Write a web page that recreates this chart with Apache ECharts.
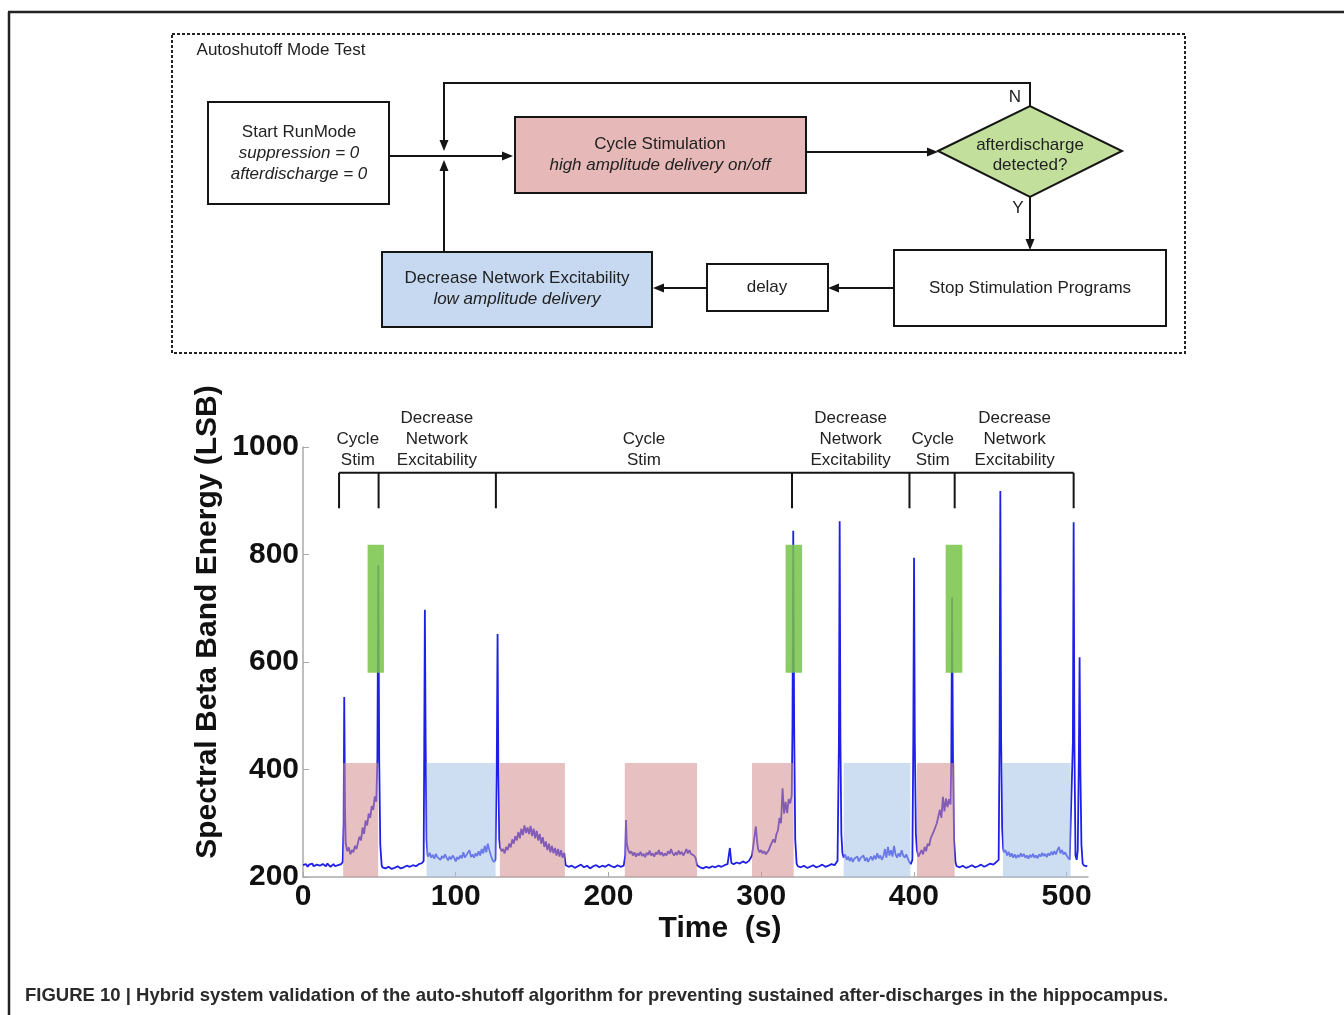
<!DOCTYPE html>
<html>
<head>
<meta charset="utf-8">
<title>Figure 10</title>
<script src="https://cdn.jsdelivr.net/npm/echarts@6/dist/echarts.min.js"></script>
<style>
  html, body { margin: 0; padding: 0; background: #fff; }
  #chart { width: 1344px; height: 1015px; }
</style>
</head>
<body>
<div id="chart"></div>
<script>
  // ---- data ----
  const timeTicks = [0, 100, 200, 300, 400, 500]
  const energyTicks = [200, 400, 600, 800, 1000]

  // [time (s), spectral beta band energy (LSB)]
  const betaEnergy = [
    [0, 222], [1, 220], [2, 224], [3, 219], [4, 223], [5, 221], [6, 225], [7, 220], [8, 218], [9, 223],
    [10, 226], [11, 221], [12, 219], [13, 224], [14, 222], [15, 220], [16, 225], [17, 223], [18, 219],
    [19, 221], [20, 224], [21, 220], [22, 218], [23, 222], [24, 221], [25, 224], [26, 228],
    [26.6, 300], [27, 535], [27.5, 330], [28, 262], [29, 248], [30, 255], [31, 242], [32, 250], [33, 246],
    [34, 258], [35, 252], [36, 264], [37, 275], [38, 268], [39, 292], [40, 280], [41, 305], [42, 296],
    [43, 318], [44, 310], [45, 332], [46, 325], [47, 350], [48, 340],
    [48.7, 420], [49.3, 780], [49.9, 420], [50.6, 260], [51.5, 222],
    [52, 218], [54, 216], [56, 219], [58, 215], [60, 217], [62, 220], [64, 216], [66, 218], [68, 221],
    [70, 219], [72, 222], [74, 220], [76, 224], [78, 226], [79, 230],
    [79.4, 450], [79.8, 697], [80.3, 450], [80.9, 270], [81.5, 242],
    [82, 238], [83, 245], [84, 236], [85, 241], [86, 234], [87, 243], [88, 237], [89, 240], [90, 232],
    [91, 239], [92, 235], [93, 242], [94, 236], [95, 231], [96, 238], [97, 233], [98, 240], [99, 236],
    [100, 229], [101, 237], [102, 233], [103, 240], [104, 235], [105, 246], [106, 236], [107, 241],
    [108, 238], [109, 250], [110, 237], [111, 242], [112, 236], [113, 244], [114, 239], [115, 248],
    [116, 240], [117, 252], [118, 244], [119, 258], [120, 246], [121, 262], [122, 250], [123, 240],
    [124, 232], [125, 228], [126, 232],
    [126.9, 420], [127.4, 652], [127.9, 400], [128.5, 270],
    [129, 255], [130, 248], [131, 252], [132, 244], [133, 256], [134, 250], [135, 262], [136, 255],
    [137, 270], [138, 262], [139, 276], [140, 268], [141, 284], [142, 272], [143, 290], [144, 278],
    [145, 296], [146, 282], [147, 292], [148, 280], [149, 295], [150, 276], [151, 290], [152, 272],
    [153, 286], [154, 268], [155, 280], [156, 262], [157, 274], [158, 256], [159, 266], [160, 250],
    [161, 262], [162, 246], [163, 258], [164, 244], [165, 254], [166, 240], [167, 252], [168, 238],
    [169, 250], [170, 236], [171, 245], [172, 222],
    [174, 219], [176, 221], [178, 217], [180, 220], [182, 223], [184, 218], [186, 221], [188, 216],
    [190, 220], [192, 222], [194, 218], [196, 221], [198, 219], [200, 223], [202, 220], [204, 218],
    [206, 222], [208, 219], [210, 221],
    [211, 240], [211.5, 306], [212, 262], [213, 250], [214, 244], [215, 248], [216, 240], [217, 246],
    [218, 238], [219, 244], [220, 240], [221, 247], [222, 239], [223, 243], [224, 237], [225, 245],
    [226, 241], [227, 249], [228, 240], [229, 244], [230, 238], [231, 246], [232, 242], [233, 250],
    [234, 241], [235, 246], [236, 239], [237, 244], [238, 240], [239, 248], [240, 243], [241, 252],
    [242, 244], [243, 240], [244, 246], [245, 241], [246, 249], [247, 242], [248, 247], [249, 240],
    [250, 245], [251, 252], [252, 244], [253, 250], [254, 243], [255, 246], [256, 240], [257, 236],
    [258, 222],
    [260, 218], [262, 216], [264, 219], [266, 217], [268, 220], [270, 218], [272, 221], [274, 219],
    [276, 222], [278, 224], [279.5, 254], [280.5, 226], [282, 224], [284, 227], [286, 225], [288, 229],
    [290, 226], [292, 230], [293, 228],
    [294, 240], [295, 262], [296.5, 294], [297.5, 262], [298, 252], [299, 246], [300, 250], [301, 244],
    [302, 248], [303, 242], [304, 246], [305, 250], [306, 258], [307, 255], [308, 270], [309, 264],
    [310, 280], [311, 287], [312, 310], [313, 300], [314, 365], [315, 318], [316, 340], [317, 319],
    [318, 345], [319, 337], [320, 352],
    [320.5, 480], [321, 844], [321.6, 480], [322.3, 270], [323.2, 225],
    [324, 220], [326, 218], [328, 221], [330, 217], [332, 219], [334, 222], [336, 218], [338, 220],
    [340, 223], [342, 219], [344, 221], [346, 224], [348, 222], [350, 230],
    [350.9, 450], [351.4, 862], [351.9, 450], [352.5, 280], [353.2, 245],
    [354, 236], [355, 242], [356, 232], [357, 238], [358, 230], [359, 236], [360, 228], [361, 234],
    [362, 231], [363, 238], [364, 229], [365, 235], [366, 232], [367, 240], [368, 230], [369, 236],
    [370, 228], [371, 234], [372, 238], [373, 231], [374, 240], [375, 233], [376, 244], [377, 235],
    [378, 240], [379, 232], [380, 238], [381, 252], [382, 236], [383, 256], [384, 240], [385, 250],
    [386, 238], [387, 258], [388, 242], [389, 236], [390, 244], [391, 238], [392, 250], [393, 240],
    [394, 236], [395, 242], [396, 234], [397, 228], [398, 224], [399, 232],
    [399.6, 450], [400.1, 794], [400.6, 450], [401.3, 280], [402, 250],
    [403, 238], [404, 244], [405, 250], [406, 242], [407, 256], [408, 248], [409, 262], [410, 258],
    [411, 272], [412, 269], [413, 285], [414, 282], [415, 300], [416, 298], [417, 325], [418, 310],
    [419, 349], [420, 322], [421, 346], [422, 330], [423, 345], [424, 335],
    [424.5, 420], [425, 720], [425.6, 420], [426.3, 270], [427.2, 228],
    [428, 220], [430, 218], [432, 221], [434, 217], [436, 219], [438, 222], [440, 218], [442, 220],
    [444, 223], [446, 219], [448, 222], [450, 225], [452, 223], [454, 228], [455.5, 232],
    [456.1, 460], [456.6, 918], [457.1, 460], [457.8, 290], [458.5, 252],
    [459, 246], [460, 250], [461, 240], [462, 247], [463, 238], [464, 244], [465, 236], [466, 242],
    [467, 235], [468, 241], [469, 237], [470, 244], [471, 238], [472, 243], [473, 236], [474, 240],
    [475, 234], [476, 241], [477, 237], [478, 243], [479, 236], [480, 240], [481, 235], [482, 242],
    [483, 238], [484, 245], [485, 239], [486, 243], [487, 237], [488, 244], [489, 240], [490, 247],
    [491, 241], [492, 248], [493, 242], [494, 250], [495, 256], [496, 244], [497, 250], [498, 242],
    [499, 246], [500, 240], [501, 236], [502, 232], [503, 230],
    [504.1, 450], [504.6, 860], [505.1, 450], [505.8, 240], [506.6, 232], [507.3, 250],
    [508, 420], [508.5, 609], [509, 400], [509.7, 260], [510.5, 225], [511.5, 221], [512.5, 223], [513.5, 220]
  ]

  // shaded periods: [start, end] in seconds
  const cycleStimPeriods = [[26.3, 49.2], [128.9, 171.5], [210.7, 258], [294, 321.3], [402, 426.7]]
  const lowAmpPeriods = [[80.9, 126.1], [354, 397.7], [458.3, 502.6]]
  const detectPeriods = [[42.3, 53], [316, 326.8], [420.8, 431.7]]
  const shadeTop = 412
  const detectRange = [580, 818]

  // phase brackets on top
  const phaseBounds = [23.6, 49.5, 126.3, 320.2, 397.1, 426.7, 504.6]
  const bracketLine = 952
  const bracketFoot = 886
  const phaseLabels = ['Cycle\nStim', 'Decrease\nNetwork\nExcitability', 'Cycle\nStim',
    'Decrease\nNetwork\nExcitability', 'Cycle\nStim', 'Decrease\nNetwork\nExcitability']
  const phaseLabelAt = [35.9, 87.7, 223.2, 358.6, 412.3, 466]

  // ---- helpers ----
  const FONT = '"Liberation Sans", Arial, sans-serif'
  const INK = '#151515'

  function rectRows(periods, lo, hi) {
    return periods.map(p => [p[0], p[1], lo, hi])
  }

  function shadeSeries(periods, lo, hi, color, z) {
    return {
      type: 'custom',
      z: z,
      silent: true,
      data: rectRows(periods, lo, hi),
      encode: { x: [0, 1], y: [2, 3] },
      renderItem(params, api) {
        const a = api.coord([api.value(0), api.value(3)])
        const b = api.coord([api.value(1), api.value(2)])
        return { type: 'rect', shape: { x: a[0], y: a[1], width: b[0] - a[0], height: b[1] - a[1] }, style: { fill: color } }
      }
    }
  }

  // flow chart pieces (pixel layout of the diagram)
  function box(x, y, w, h, fill) {
    return { type: 'rect', shape: { x, y, width: w, height: h }, style: { fill, stroke: INK, lineWidth: 2 } }
  }
  function txt(x, y, s, italic, size) {
    return {
      type: 'text', x, y,
      style: { text: s, fill: '#222', font: (italic ? 'italic ' : '') + (size || 17) + 'px ' + FONT, textAlign: 'center', textVerticalAlign: 'middle' }
    }
  }
  function arrow(pts) {
    const [x1, y1] = pts[pts.length - 2]
    const [x2, y2] = pts[pts.length - 1]
    const a = Math.atan2(y2 - y1, x2 - x1)
    const L = 11, W = 4.5
    const bx = x2 - L * Math.cos(a), by = y2 - L * Math.sin(a)
    const line = pts.slice(0, -1).concat([[bx, by]])
    return [
      { type: 'polyline', shape: { points: line }, style: { stroke: INK, lineWidth: 2, fill: null } },
      { type: 'polygon', shape: { points: [[x2, y2], [bx - W * Math.sin(a), by + W * Math.cos(a)], [bx + W * Math.sin(a), by - W * Math.cos(a)]] }, style: { fill: INK } }
    ]
  }

  const flow = [
    { type: 'rect', shape: { x: 172, y: 34, width: 1013, height: 319 }, style: { fill: null, stroke: '#222', lineWidth: 2, lineDash: [3, 2] } },
    txt(281, 50, 'Autoshutoff Mode Test'),
    box(208, 102, 181, 102, '#fff'),
    txt(299, 132, 'Start RunMode'),
    txt(299, 153, 'suppression = 0', true),
    txt(299, 174, 'afterdischarge = 0', true),
    box(515, 117, 291, 76, '#e6b9b8'),
    txt(660, 144, 'Cycle Stimulation'),
    txt(660, 165, 'high amplitude delivery on/off', true),
    { type: 'polygon', shape: { points: [[938, 151], [1030, 106], [1122, 151], [1030, 197]] }, style: { fill: '#c2e09c', stroke: INK, lineWidth: 2 } },
    txt(1030, 145, 'afterdischarge'),
    txt(1030, 165, 'detected?'),
    txt(1015, 97, 'N'),
    txt(1018, 208, 'Y'),
    box(894, 250, 272, 76, '#fff'),
    txt(1030, 288, 'Stop Stimulation Programs'),
    box(707, 264, 121, 47, '#fff'),
    txt(767, 287, 'delay'),
    box(382, 252, 270, 75, '#c6d9f1'),
    txt(517, 278, 'Decrease Network Excitability'),
    txt(517, 299, 'low amplitude delivery', true)
  ].concat(
    arrow([[389, 156], [513, 156]]),
    arrow([[1030, 106], [1030, 83], [444, 83], [444, 151]]),
    arrow([[444, 252], [444, 160]]),
    arrow([[806, 152], [938, 152]]),
    arrow([[1030, 197], [1030, 250]]),
    arrow([[894, 288], [828, 288]]),
    arrow([[707, 288], [653, 288]])
  )

  const frame = [
    { type: 'line', shape: { x1: 8, y1: 12, x2: 1344, y2: 12 }, style: { stroke: '#222', lineWidth: 2.5 } },
    { type: 'line', shape: { x1: 9, y1: 12, x2: 9, y2: 1015 }, style: { stroke: '#222', lineWidth: 2.5 } },
    {
      type: 'text', x: 720, y: 929,
      style: { text: 'Time  (s)', fill: '#111', font: 'bold 30px ' + FONT, textAlign: 'center', textVerticalAlign: 'middle' }
    },
    {
      type: 'text', x: 208, y: 622, rotation: Math.PI / 2,
      style: { text: 'Spectral Beta Band Energy (LSB)', fill: '#111', font: 'bold 30px ' + FONT, textAlign: 'center', textVerticalAlign: 'middle' }
    },
    {
      type: 'text', x: 25, y: 996,
      style: {
        text: 'FIGURE 10 | Hybrid system validation of the auto-shutoff algorithm for preventing sustained after-discharges in the hippocampus.',
        fill: '#2a2a2a', font: 'bold 18.5px ' + FONT, textAlign: 'left', textVerticalAlign: 'middle'
      }
    }
  ]

  // bracket segments: [x1, y1, x2, y2]
  const bracketSegs = [[phaseBounds[0], bracketLine, phaseBounds[phaseBounds.length - 1], bracketLine]]
    .concat(phaseBounds.map(x => [x, bracketLine, x, bracketFoot]))

  const chart = echarts.init(document.getElementById('chart'))
  chart.setOption({
    animation: false,
    backgroundColor: '#fff',
    grid: { left: 303, top: 447, width: 785, height: 430, outerBoundsMode: 'none' },
    xAxis: {
      type: 'value', min: 0, max: 514, interval: 100,
      axisLine: { lineStyle: { color: '#aaa', width: 1.5 } },
      axisTick: { inside: true, length: 5, lineStyle: { color: '#aaa' }, customValues: timeTicks },
      axisLabel: { customValues: timeTicks, formatter: v => String(v), fontFamily: FONT, fontWeight: 'bold', fontSize: 30, color: '#111', margin: 5 },
      splitLine: { show: false }
    },
    yAxis: {
      type: 'value', min: 200, max: 1000, interval: 200,
      axisLine: { show: true, lineStyle: { color: '#aaa', width: 1.5 } },
      axisTick: { show: true, inside: true, length: 6, lineStyle: { color: '#aaa' }, customValues: energyTicks },
      axisLabel: { customValues: energyTicks, formatter: v => String(v), fontFamily: FONT, fontWeight: 'bold', fontSize: 30, color: '#111', margin: 4 },
      splitLine: { show: false }
    },
    graphic: { elements: flow.concat(frame) },
    series: [
      {
        name: 'Beta energy', type: 'line', z: 2,
        data: betaEnergy, showSymbol: false, symbol: 'none',
        lineStyle: { color: '#1f1fe8', width: 1.8 }
      },
      shadeSeries(cycleStimPeriods, 200, shadeTop, 'rgba(212,142,142,0.55)', 5),
      shadeSeries(lowAmpPeriods, 200, shadeTop, 'rgba(165,195,232,0.55)', 5),
      shadeSeries(detectPeriods, detectRange[0], detectRange[1], 'rgba(120,196,72,0.85)', 6),
      {
        type: 'custom', z: 7, silent: true,
        data: bracketSegs,
        encode: { x: [0, 2], y: [1, 3] },
        renderItem(params, api) {
          const a = api.coord([api.value(0), api.value(1)])
          const b = api.coord([api.value(2), api.value(3)])
          return { type: 'line', shape: { x1: a[0], y1: a[1], x2: b[0], y2: b[1] }, style: { stroke: INK, lineWidth: 2 } }
        }
      },
      {
        type: 'custom', z: 7, silent: true,
        data: phaseLabelAt.map(x => [x, bracketLine]),
        renderItem(params, api) {
          const p = api.coord([api.value(0), api.value(1)])
          return {
            type: 'text', x: p[0], y: p[1] - 2,
            style: { text: phaseLabels[params.dataIndex], fill: '#222', font: '17px ' + FONT, lineHeight: 21, textAlign: 'center', textVerticalAlign: 'bottom' }
          }
        }
      }
    ]
  })
</script>
</body>
</html>
